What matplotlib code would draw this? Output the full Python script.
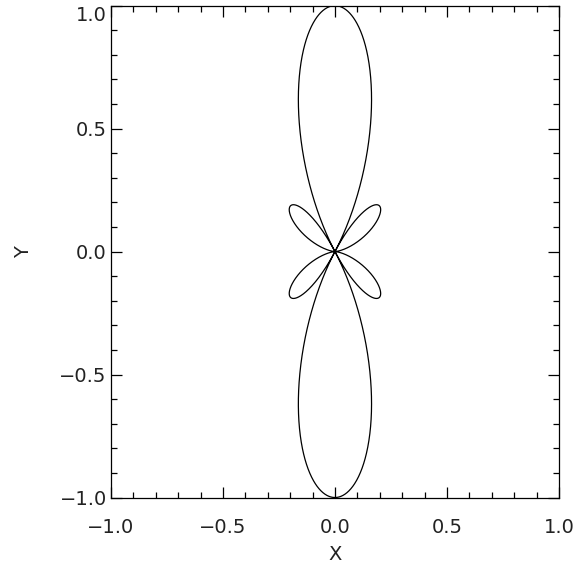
import numpy as np
import matplotlib
matplotlib.use("Agg")
import matplotlib.pyplot as plt
from matplotlib.ticker import MultipleLocator

# linear array read off the lobes: 4 elements, half-wavelength spacing
n_elements = 4
spacing = 0.5  # in wavelengths
xlim = (-1.0, 1.0)
ylim = (-1.0, 1.0)
major_ticks = [-1.0, -0.5, 0.0, 0.5, 1.0]
tick_labels = ["\u22121.0", "\u22120.5", "0.0", "0.5", "1.0"]

phi = np.linspace(0, 2 * np.pi, 4001)
psi = 2 * np.pi * spacing * np.sin(phi)
num = np.sin(n_elements * psi / 2)
den = n_elements * np.sin(psi / 2)
af = np.where(np.abs(den) < 1e-12, 1.0, num / np.where(den == 0, 1, den))
r = np.abs(af)
x = r * np.sin(phi)
y = r * np.cos(phi)

plt.rcParams['font.family'] = ['DejaVu Sans']
fig = plt.figure(figsize=(5.78, 5.66), dpi=100)
ax = fig.add_axes([0.192, 0.121, 0.775, 0.869])
ax.plot(x, y, '-', color='black', lw=0.9)

ax.set_xlim(*xlim)
ax.set_ylim(*ylim)
ax.set_xticks(major_ticks)
ax.set_yticks(major_ticks)
ax.set_xticklabels(tick_labels)
ax.set_yticklabels(tick_labels)
ax.xaxis.set_minor_locator(MultipleLocator(0.1))
ax.yaxis.set_minor_locator(MultipleLocator(0.1))
ax.tick_params(which='both', direction='in', top=True, right=True,
               width=0.9, color='black', labelsize=14, labelcolor='#222222')
ax.tick_params(which='major', length=8)
ax.tick_params(which='minor', length=4)
ax.tick_params(axis='x', pad=14.5)
ax.tick_params(axis='y', pad=3)
for s in ax.spines.values():
    s.set_linewidth(0.9)

# top y label sits inside the frame, as in the original
ylabels = ax.get_yticklabels()
ylabels[-1].set_verticalalignment('top')

ax.set_xlabel("X", fontsize=14, color='#222222', labelpad=6)
ax.set_ylabel("Y", fontsize=14, color='#222222', labelpad=19)

fig.savefig("out.png", dpi=100)
